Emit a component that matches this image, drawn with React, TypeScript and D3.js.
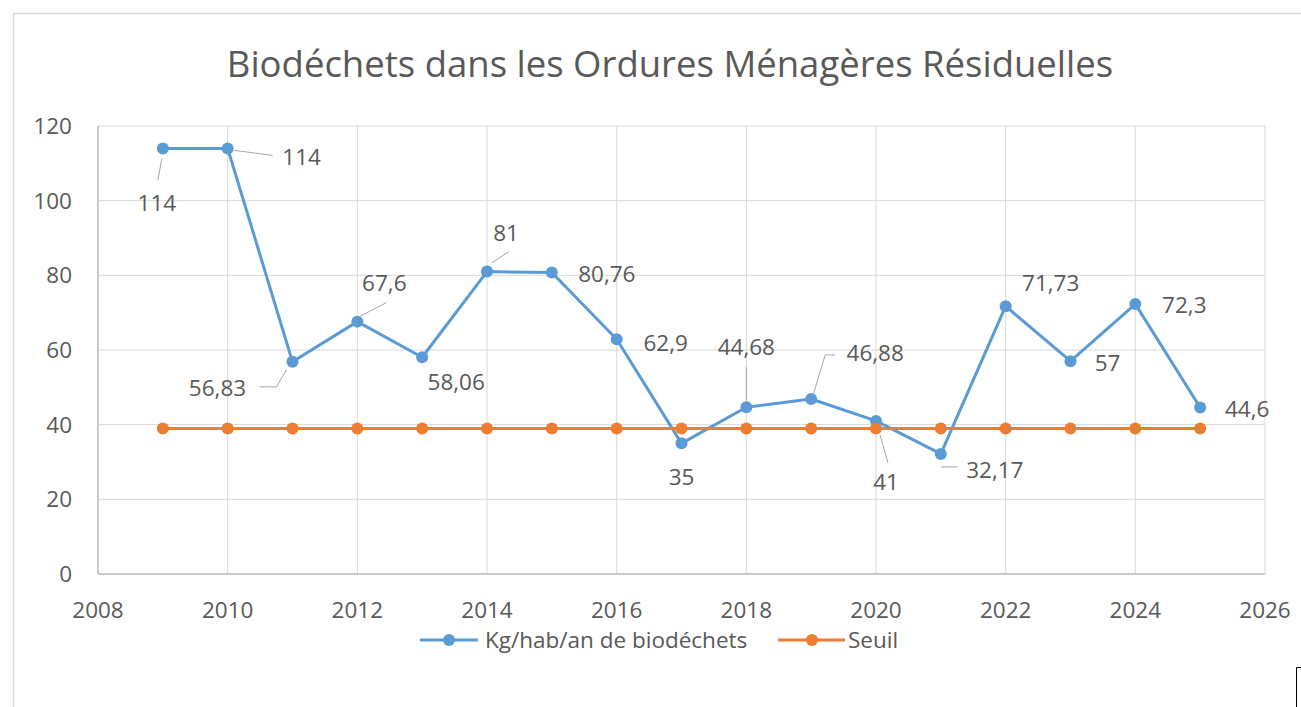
import React from "react";
import * as d3 from "d3";

const years = [2009, 2010, 2011, 2012, 2013, 2014, 2015, 2016, 2017, 2018, 2019, 2020, 2021, 2022, 2023, 2024, 2025];
const biodechets = [114, 114, 56.83, 67.6, 58.06, 81, 80.76, 62.9, 35, 44.68, 46.88, 41, 32.17, 71.73, 57, 72.3, 44.6];
const seuil = [39, 39, 39, 39, 39, 39, 39, 39, 39, 39, 39, 39, 39, 39, 39, 39, 39];
const xTicks = [2008, 2010, 2012, 2014, 2016, 2018, 2020, 2022, 2024, 2026];
const yTicks = [0, 20, 40, 60, 80, 100, 120];
const title = "Biodéchets dans les Ordures Ménagères Résiduelles";
const seriesNames = ["Kg/hab/an de biodéchets", "Seuil"];

// label placement (styling): offset of label centre from point, and leader line points relative to point
const labelOffsets: [number, number][] = [
  [-6, 55], [74, 9], [-75, 26], [27, -39], [34, 25], [19, -39], [55, 2], [49, 4], [0, 34],
  [0, -60], [64, -46], [10, 61], [54, 16], [45, -23], [37, 2], [49, 1], [47, 2],
];
const leaders: ([number, number][] | null)[] = [
  [[-1, 10], [-5, 32]],
  [[7, 2], [45, 7]],
  [[-33, 25], [-16, 25], [-6, 8]],
  [[2, -5], [29, -19]],
  null,
  [[5, -9], [22, -20]],
  null,
  null,
  null,
  [[0, -40], [0, -7]],
  [[2, -4], [14, -44], [24, -44]],
  [[4, 14], [12, 42]],
  [[0, 13], [17, 13]],
  null,
  null,
  null,
  null,
];

const BLUE = "#5b9bd5";
const ORANGE = "#ed7d31";
const TEXT = "#595959";
const GRID = "#d9d9d9";
const FONT = "'Open Sans', 'Noto Sans', sans-serif";

const fmt = (v: number) => String(v).replace(".", ",");

export default function App() {
  const x = d3.scaleLinear().domain([2008, 2026]).range([98, 1265]);
  const y = d3.scaleLinear().domain([0, 120]).range([574, 126]);
  const line = d3
    .line<number>()
    .x((_, i) => x(years[i]))
    .y((d) => y(d));

  return (
    <svg
      width={1301}
      height={707}
      style={{ position: "fixed", left: 0, top: 0, background: "#fff" }}
      fontFamily={FONT}
    >
      <rect x={0} y={0} width={1301} height={707} fill="#fff" />
      <path d="M13.5,707 V13.5 H1301" fill="none" stroke={GRID} strokeWidth={1.5} />
      <path d="M1296.5,707 V667.5 H1301" fill="none" stroke="#000" strokeWidth={1} />

      <text x={670} y={77} textAnchor="middle" fontSize={36.5} fill={TEXT}>
        {title}
      </text>

      {/* gridlines */}
      {yTicks.map((t) => (
        <line key={"gy" + t} x1={x(2008)} x2={x(2026)} y1={y(t)} y2={y(t)} stroke={GRID} strokeWidth={1} />
      ))}
      {xTicks.map((t) => (
        <line key={"gx" + t} x1={x(t)} x2={x(t)} y1={y(0)} y2={y(120)} stroke={GRID} strokeWidth={1} />
      ))}
      <line x1={x(2008)} x2={x(2026)} y1={y(0)} y2={y(0)} stroke="#bfbfbf" strokeWidth={1.5} />
      <line x1={x(2008)} x2={x(2008)} y1={y(0)} y2={y(120)} stroke="#bfbfbf" strokeWidth={1.5} />

      {/* tick labels */}
      {yTicks.map((t) => (
        <text key={"ty" + t} x={72} y={y(t) + 8} textAnchor="end" fontSize={22.5} fill={TEXT}>
          {t}
        </text>
      ))}
      {xTicks.map((t) => (
        <text key={"tx" + t} x={x(t)} y={618} textAnchor="middle" fontSize={22.5} fill={TEXT}>
          {t}
        </text>
      ))}

      {/* blue series */}
      <path d={line(biodechets) || ""} fill="none" stroke={BLUE} strokeWidth={3} strokeLinejoin="round" />
      {biodechets.map((v, i) => (
        <circle key={"b" + i} cx={x(years[i])} cy={y(v)} r={6} fill={BLUE} />
      ))}

      {/* orange series */}
      <path d={line(seuil) || ""} fill="none" stroke={ORANGE} strokeWidth={3} />
      {seuil.map((v, i) => (
        <circle key={"o" + i} cx={x(years[i])} cy={y(v)} r={6} fill={ORANGE} />
      ))}

      {/* leader lines */}
      {biodechets.map((v, i) => {
        const l = leaders[i];
        if (!l) return null;
        const px = x(years[i]);
        const py = y(v);
        const d = l.map((p, j) => (j === 0 ? "M" : "L") + (px + p[0]) + "," + (py + p[1])).join(" ");
        return <path key={"l" + i} d={d} fill="none" stroke="#a6a6a6" strokeWidth={1} />;
      })}

      {/* data labels */}
      {biodechets.map((v, i) => (
        <text
          key={"dl" + i}
          x={x(years[i]) + labelOffsets[i][0]}
          y={y(v) + labelOffsets[i][1] + 8}
          textAnchor="middle"
          fontSize={22.5}
          fill={TEXT}
        >
          {fmt(v)}
        </text>
      ))}

      {/* legend */}
      <line x1={420} x2={478} y1={640} y2={640} stroke={BLUE} strokeWidth={3} />
      <circle cx={449} cy={640} r={6} fill={BLUE} />
      <text x={485} y={648} fontSize={22.5} fill={TEXT}>
        {seriesNames[0]}
      </text>
      <line x1={778} x2={845} y1={640} y2={640} stroke={ORANGE} strokeWidth={3} />
      <circle cx={812} cy={640} r={6} fill={ORANGE} />
      <text x={848} y={648} fontSize={22.5} fill={TEXT}>
        {seriesNames[1]}
      </text>
    </svg>
  );
}
